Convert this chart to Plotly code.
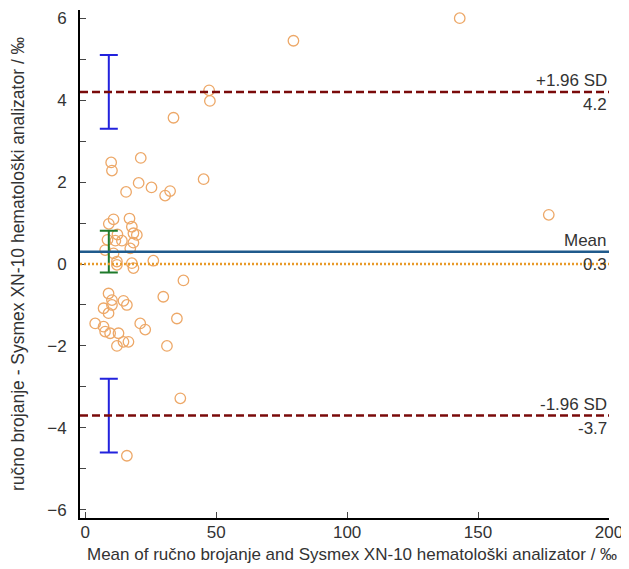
import plotly.graph_objects as go

# Bland-Altman data: mean of methods (x) and difference (y)
mean_vals = [143, 79.5, 47.3, 47.6, 33.7, 21.2, 9.9, 10.2, 20.4, 15.6, 25.3, 30.5, 32.4, 45.2, 177,
             10.8, 16.9, 9.0, 17.8, 18.4, 19.7, 12.3, 8.5, 11.5, 14.0, 18.4, 17.2, 7.6, 10.8,
             12.1, 12.1, 17.8, 18.4, 26.0, 37.5, 29.8, 8.9, 10.2, 10.2, 7.0, 8.9, 14.6, 15.9,
             3.8, 7.0, 7.6, 9.5, 12.7, 21.0, 22.9, 14.6, 16.5, 12.1, 31.2, 35.0, 36.3, 15.9]
diff_vals = [6.0, 5.45, 4.24, 3.98, 3.57, 2.59, 2.48, 2.28, 1.98, 1.76, 1.87, 1.67, 1.78, 2.07, 1.2,
             1.09, 1.11, 0.98, 0.91, 0.75, 0.71, 0.72, 0.59, 0.57, 0.57, 0.52, 0.38, 0.34, 0.26,
             0.06, -0.02, 0.02, -0.1, 0.08, -0.4, -0.8, -0.72, -0.88, -1.0, -1.08, -1.2, -0.9, -1.0,
             -1.45, -1.53, -1.65, -1.69, -1.69, -1.45, -1.6, -1.9, -1.9, -2.0, -2.0, -1.33, -3.28, -4.68]

mean_diff = 0.3
upper_loa = 4.2
lower_loa = -3.7
ci_x = 9
ci_mean_half = 0.51
ci_loa_half = 0.9

x_ticks = [0, 50, 100, 150, 200]
y_ticks = [-6, -4, -2, 0, 2, 4, 6]

x_title = "Mean of ručno brojanje and Sysmex XN-10 hematološki analizator / ‰"
y_title = "ručno brojanje - Sysmex XN-10 hematološki analizator / ‰"

fig = go.Figure()

fig.add_trace(go.Scatter(
    x=mean_vals, y=diff_vals, mode="markers",
    marker=dict(size=10.5, color="rgba(255,255,255,0)",
                line=dict(color="#eda868", width=1.3)),
    showlegend=False, hoverinfo="x+y"))

# reference lines
fig.add_shape(type="line", xref="paper", x0=0, x1=1, yref="y", y0=0, y1=0,
              line=dict(color="#e89a2a", width=2.5, dash="2px,2px"))
fig.add_shape(type="line", xref="paper", x0=0, x1=1, yref="y", y0=mean_diff, y1=mean_diff,
              line=dict(color="#1f5a8c", width=2.5))
for v in (upper_loa, lower_loa):
    fig.add_shape(type="line", xref="paper", x0=0, x1=1, yref="y", y0=v, y1=v,
                  line=dict(color="#7a0a0a", width=2.5, dash="8px,4px"))

# confidence interval bars
fig.add_trace(go.Scatter(
    x=[ci_x], y=[mean_diff], mode="markers",
    marker=dict(size=1, color="rgba(0,0,0,0)"),
    error_y=dict(type="constant", value=ci_mean_half, color="#1e7a2a", thickness=2, width=9),
    showlegend=False, hoverinfo="skip"))
fig.add_trace(go.Scatter(
    x=[ci_x, ci_x], y=[upper_loa, lower_loa], mode="markers",
    marker=dict(size=1, color="rgba(0,0,0,0)"),
    error_y=dict(type="constant", value=ci_loa_half, color="#2222dd", thickness=2, width=9),
    showlegend=False, hoverinfo="skip"))

font_c = "#333333"
fam = "Arial, Liberation Sans, sans-serif"
ann_font = dict(family=fam, size=17, color=font_c)
labels = [
    (upper_loa, "+1.96 SD", "bottom"), (upper_loa, f"{upper_loa:.1f}", "top"),
    (mean_diff, "Mean", "bottom"), (mean_diff, f"{mean_diff:.1f}", "top"),
    (lower_loa, "-1.96 SD", "bottom"), (lower_loa, f"{lower_loa:.1f}", "top"),
]
for yv, txt, ya in labels:
    fig.add_annotation(x=1, xref="paper", y=yv, yref="y", text=txt, showarrow=False,
                       xanchor="right", yanchor=ya, yshift=0 if ya == "bottom" else -1,
                       xshift=0, font=ann_font)

# x-axis title
fig.add_annotation(x=0.5, xref="paper", y=0, yref="paper", text=x_title, showarrow=False,
                   xanchor="center", yanchor="middle", xshift=7, yshift=-36,
                   font=dict(family=fam, size=17, color=font_c))

fig.update_layout(
    width=621, height=561,
    margin=dict(l=72, r=20, t=2, b=51),
    plot_bgcolor="white", paper_bgcolor="white",
    font=dict(family=fam, size=17, color=font_c),
    xaxis=dict(range=[-2, 200], tickvals=x_ticks, ticks="inside", ticklen=6, tickcolor="#444",
               showgrid=False, zeroline=False, showline=True, linecolor="black", linewidth=2,
               tickfont=dict(size=17, color=font_c), ticklabelstandoff=-2, automargin=False),
    yaxis=dict(range=[-6.2, 6.2], tickvals=y_ticks, ticks="inside", ticklen=6, tickcolor="#444",
               minor=dict(dtick=1, tick0=0, ticks="inside", ticklen=6, tickcolor="#444", showgrid=False),
               showgrid=False, zeroline=False, showline=True, linecolor="black", linewidth=2,
               tickfont=dict(size=17, color=font_c), ticklabelstandoff=8,
               title=dict(text=y_title, font=dict(size=17.5, color=font_c), standoff=18)),
)

fig.write_html("out.html")
